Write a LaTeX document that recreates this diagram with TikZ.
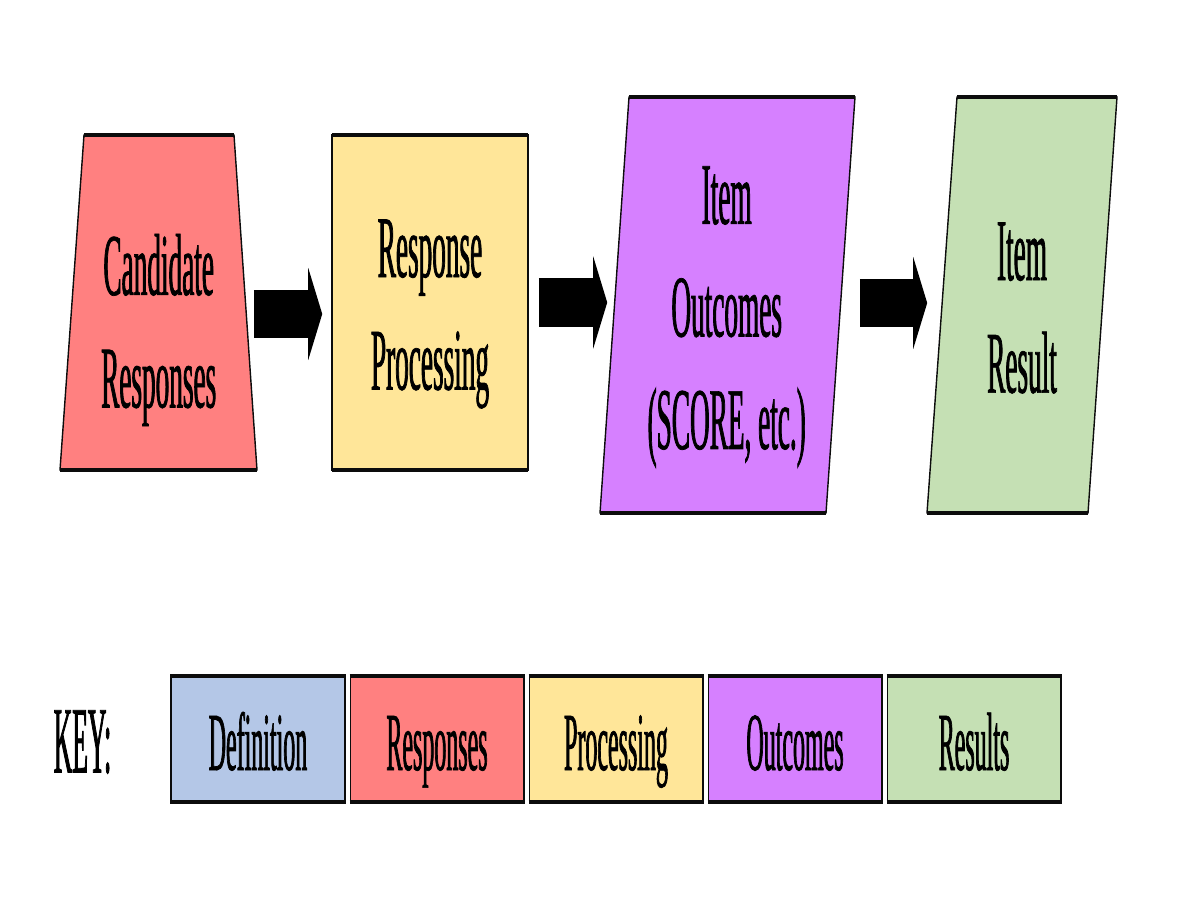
\documentclass[tikz,border=0pt]{standalone}
\usepackage{fontspec}
\newfontfamily\narrowserif[FakeStretch=0.31, FakeBold=0.8]{Liberation Serif}
\newfontfamily\keyserif[FakeStretch=0.29, FakeBold=0.8]{Liberation Serif}
\newfontfamily\keyheadserif[FakeStretch=0.27, FakeBold=0.8]{Liberation Serif}
\usepackage{tikz}
\usetikzlibrary{arrows.meta,positioning,calc}
\definecolor{responsered}{RGB}{255,128,128}
\definecolor{processyellow}{RGB}{255,230,153}
\definecolor{outcomepurple}{RGB}{214,128,255}
\definecolor{resultgreen}{RGB}{197,224,180}
\definecolor{definitionblue}{RGB}{180,199,231}
\definecolor{rimblack}{RGB}{12,12,12}

\begin{document}
\begin{tikzpicture}[
        x=0.01cm, y=-0.01cm,
        node distance=0.04cm,
        side/.style={draw=rimblack, line width=0.4pt},
        rim/.style={draw=rimblack, line width=1.15pt},
        bigtext/.style={font=\narrowserif\fontsize{25}{32}\selectfont, align=center, inner sep=0pt},
        keybox/.style={rectangle, draw=rimblack, line width=0.4pt, minimum width=1.735cm, minimum height=1.24cm, inner sep=0pt, text height=0.8cm, text depth=0.18cm, font=\keyserif\fontsize{23.5}{28}\selectfont},
        blockarrow/.style={line width=0.48cm, black, -{Triangle[length=0.14cm, width=0.92cm, line width=0pt]}}
    ]
        \useasboundingbox (0,0) rectangle (1200,900);

        % Shapes
        \filldraw[side, fill=responsered] (84,135) -- (234,135) -- (257,470) -- (60,470) -- cycle;
        \draw[rim] (84,135) -- (234,135);
        \draw[rim] (60,470) -- (257,470);

        \filldraw[side, fill=processyellow] (332,135) rectangle (528,470);
        \draw[rim] (332,135) -- (528,135);
        \draw[rim] (332,470) -- (528,470);

        \filldraw[side, fill=outcomepurple] (629,97) -- (855,97) -- (826,513) -- (600,513) -- cycle;
        \draw[rim] (629,97) -- (855,97);
        \draw[rim] (600,513) -- (826,513);

        \filldraw[side, fill=resultgreen] (957,97) -- (1117,97) -- (1088,513) -- (927,513) -- cycle;
        \draw[rim] (957,97) -- (1117,97);
        \draw[rim] (927,513) -- (1088,513);

        % Labels
        \node[bigtext, minimum width=1.774cm] (cand) at (158.7,330) {Candidate\\Responses};
        \node[bigtext, minimum width=1.96cm] (proc) at (430,314) {Response\\Processing};
        \node[bigtext, minimum width=2.26cm] (outc) at (726.7,317) {Item\\Outcomes\\(SCORE, etc.)};
        \node[bigtext, minimum width=1.605cm] (res) at (1022,308) {Item\\Result};

        % Arrows
        \draw[blockarrow, shorten <=0.056cm, shorten >=0.09cm] ([yshift=0.16cm]cand.east) -- ([yshift=0.16cm]cand.east -| proc.west);
        \draw[blockarrow, shorten <=0.1cm, shorten >=0.057cm] ([yshift=0.115cm]proc.east) -- ([yshift=0.115cm]proc.east -| outc.west);
        \draw[blockarrow, shorten <=0.193cm, shorten >=0.138cm] ([yshift=0.14cm]outc.east) -- ([yshift=0.14cm]outc.east -| res.west);

        % Key
        \node[font=\keyheadserif\fontsize{27}{32}\selectfont, inner sep=0pt] (keylabel) at (82.5,742) {KEY:};
        \node[keybox, fill=definitionblue] (keydef) at (258,739) {Definition};
        \node[keybox, fill=responsered, right=of keydef] (keyresp) {Responses};
        \node[keybox, fill=processyellow, right=of keyresp] (keyproc) {Processing};
        \node[keybox, fill=outcomepurple, right=of keyproc] (keyoutc) {Outcomes};
        \node[keybox, fill=resultgreen, right=of keyoutc] (keyres) {Results};

        \draw[rim] (keydef.north west) -- (keydef.north east) (keydef.south west) -- (keydef.south east);
        \draw[rim] (keyresp.north west) -- (keyresp.north east) (keyresp.south west) -- (keyresp.south east);
        \draw[rim] (keyproc.north west) -- (keyproc.north east) (keyproc.south west) -- (keyproc.south east);
        \draw[rim] (keyoutc.north west) -- (keyoutc.north east) (keyoutc.south west) -- (keyoutc.south east);
        \draw[rim] (keyres.north west) -- (keyres.north east) (keyres.south west) -- (keyres.south east);

    \end{tikzpicture}
\end{document}
